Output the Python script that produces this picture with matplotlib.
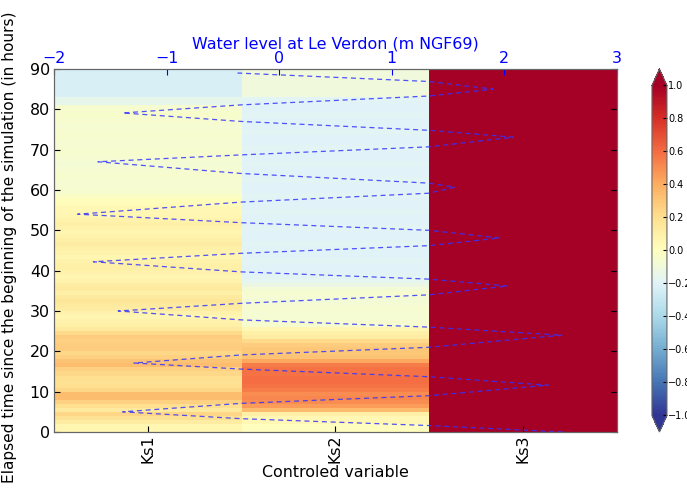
import numpy as np
import matplotlib
matplotlib.use("Agg")
import matplotlib.pyplot as plt

# ---- data -------------------------------------------------------------
variables = ["Ks1", "Ks2", "Ks3"]
hours = list(range(0, 91))          # row edges (elapsed hours)

ks1 = [0.06, 0.06, 0.12, 0.18, 0.24, 0.14, 0.20, 0.26, 0.34, 0.34,
       0.24, 0.20, 0.18, 0.20, 0.23, 0.26, 0.34, 0.32, 0.26, 0.23,
       0.28, 0.28, 0.26, 0.28, 0.22, 0.14, 0.10, 0.08, 0.06, 0.08,
       0.12, 0.14, 0.16, 0.14, 0.10, 0.14, 0.12, 0.08, 0.06, 0.08,
       0.10, 0.10, 0.08, 0.06, 0.08, 0.10, 0.12, 0.10, 0.08, 0.06,
       0.08, 0.10, 0.08, 0.06, 0.05, 0.04, 0.03, 0.01, -0.03, -0.05,
       -0.06, -0.07, -0.06, -0.05, -0.06, -0.07, -0.08, -0.07, -0.06, -0.05,
       -0.06, -0.07, -0.06, -0.05, -0.06, -0.07, -0.06, -0.05, -0.04, -0.05,
       -0.06, -0.15, -0.15, -0.23, -0.23, -0.23, -0.23, -0.23, -0.23, -0.23]

ks2 = [0.00, 0.00, 0.05, 0.05, 0.10, 0.35, 0.45, 0.50, 0.52, 0.50,
       0.55, 0.58, 0.60, 0.60, 0.58, 0.58, 0.55, 0.42, 0.32, 0.30,
       0.30, 0.28, 0.22, 0.12, 0.10, 0.05, -0.05, -0.06, -0.07, -0.07,
       -0.06, -0.07, -0.08, -0.07, -0.06, -0.08, -0.13, -0.17, -0.18, -0.19,
       -0.20, -0.19, -0.18, -0.19, -0.20, -0.19, -0.18, -0.19, -0.20, -0.19,
       -0.18, -0.19, -0.20, -0.19, -0.18, -0.19, -0.20, -0.19, -0.18, -0.19,
       -0.20, -0.19, -0.18, -0.19, -0.20, -0.19, -0.18, -0.19, -0.20, -0.19,
       -0.18, -0.19, -0.20, -0.19, -0.18, -0.19, -0.20, -0.19, -0.18, -0.19,
       -0.20, -0.19, -0.18, -0.10, -0.10, -0.10, -0.10, -0.10, -0.10, -0.10]

ks3 = [1.0, 1.0, 1.0, 1.0, 1.0, 1.0, 1.0, 1.0, 1.0, 1.0,
       1.0, 1.0, 1.0, 1.0, 1.0, 1.0, 1.0, 1.0, 1.0, 1.0,
       1.0, 1.0, 1.0, 1.0, 1.0, 1.0, 1.0, 1.0, 1.0, 1.0,
       1.0, 1.0, 1.0, 1.0, 1.0, 1.0, 1.0, 1.0, 1.0, 1.0,
       1.0, 1.0, 1.0, 1.0, 1.0, 1.0, 1.0, 1.0, 1.0, 1.0,
       1.0, 1.0, 1.0, 1.0, 1.0, 1.0, 1.0, 1.0, 1.0, 1.0,
       1.0, 1.0, 1.0, 1.0, 1.0, 1.0, 1.0, 1.0, 1.0, 1.0,
       1.0, 1.0, 1.0, 1.0, 1.0, 1.0, 1.0, 1.0, 1.0, 1.0,
       1.0, 1.0, 1.0, 1.0, 1.0, 1.0, 1.0, 1.0, 1.0, 1.0]

tide_time = [0.0, 1.6, 3.3, 5.0, 7.1, 9.0, 11.6, 13.7, 15.6, 17.1,
             19.1, 21.0, 24.0, 26.0, 27.8, 30.0, 31.9, 34.0, 36.2, 37.9,
             39.7, 42.2, 44.3, 46.2, 48.1, 50.0, 51.9, 54.0, 57.0, 59.2,
             60.7, 61.7, 64.1, 67.0, 68.7, 70.7, 73.1, 74.8, 77.0, 79.1,
             81.1, 83.3, 85.0, 86.9, 89.0]
tide_level = [2.52, 1.33, -0.34, -1.39, -0.34, 1.33, 2.39, 1.33, -0.34, -1.29,
              -0.34, 1.33, 2.51, 1.33, -0.34, -1.43, -0.34, 1.33, 2.03, 1.33,
              -0.34, -1.65, -0.34, 1.33, 1.96, 1.33, -0.34, -1.79, -0.34, 1.33,
              1.56, 1.33, -0.34, -1.61, -0.34, 1.33, 2.08, 1.33, -0.34, -1.39,
              -0.34, 1.33, 1.90, 1.33, -0.37]

cbar_ticks = [-1.0, -0.8, -0.6, -0.4, -0.2, 0.0, 0.2, 0.4, 0.6, 0.8, 1.0]

# ---- figure -----------------------------------------------------------
FS = 11.4
fig = plt.figure(figsize=(6.87, 4.90), dpi=100)
ax = fig.add_axes([0.0786, 0.1184, 0.8195, 0.7408])

grid = np.array([ks1, ks2, ks3]).T
mesh = ax.pcolormesh(np.arange(len(variables) + 1), hours, grid,
                     cmap="RdYlBu_r", vmin=-1, vmax=1, shading="flat")
ax.set_xlim(0, 3)
ax.set_ylim(0, 90)
ax.set_yticks(range(0, 91, 10))
ax.set_xticks(np.arange(len(variables)) + 0.5)
ax.set_xticklabels(variables, rotation=90, fontsize=FS)
ax.tick_params(axis="y", labelsize=FS, direction="in", right=True, length=4,
               pad=3)
ax.tick_params(axis="x", direction="in", length=4, pad=2)
ax.set_xlabel("Controled variable", fontsize=FS, labelpad=1)
ylab = ax.set_ylabel(
    "Elapsed time since the beginning of the simulation (in hours)",
    fontsize=11.1, labelpad=4)
ax.yaxis.set_label_coords(-0.065, 0.51)

ax2 = ax.twiny()
ax2.plot(tide_level, tide_time, linestyle="--", color="#3333ff", lw=0.9,
         alpha=0.85, dashes=(4, 3))
ax2.set_xlim(-2, 3)
ax2.set_ylim(0, 90)
ax2.set_xticks([-2, -1, 0, 1, 2, 3])
ax2.tick_params(axis="x", colors="blue", labelsize=FS, direction="in", length=4,
                pad=2)
ax2.set_xlabel("Water level at Le Verdon (m NGF69)", color="blue", fontsize=FS,
               labelpad=2)

for a in (ax, ax2):
    for s in a.spines.values():
        s.set_color("#666666")

cax = fig.add_axes([0.949, 0.1184, 0.0218, 0.7408])
cb = fig.colorbar(mesh, cax=cax, extend="both", ticks=cbar_ticks)
cb.ax.tick_params(labelsize=7, direction="in", length=3, pad=1)
cb.outline.set_edgecolor("#666666")
cb.ax.set_yticklabels([f"{t:.1f}".replace("-", "\u2212") for t in cbar_ticks])

fig.savefig("out.png", dpi=100)
